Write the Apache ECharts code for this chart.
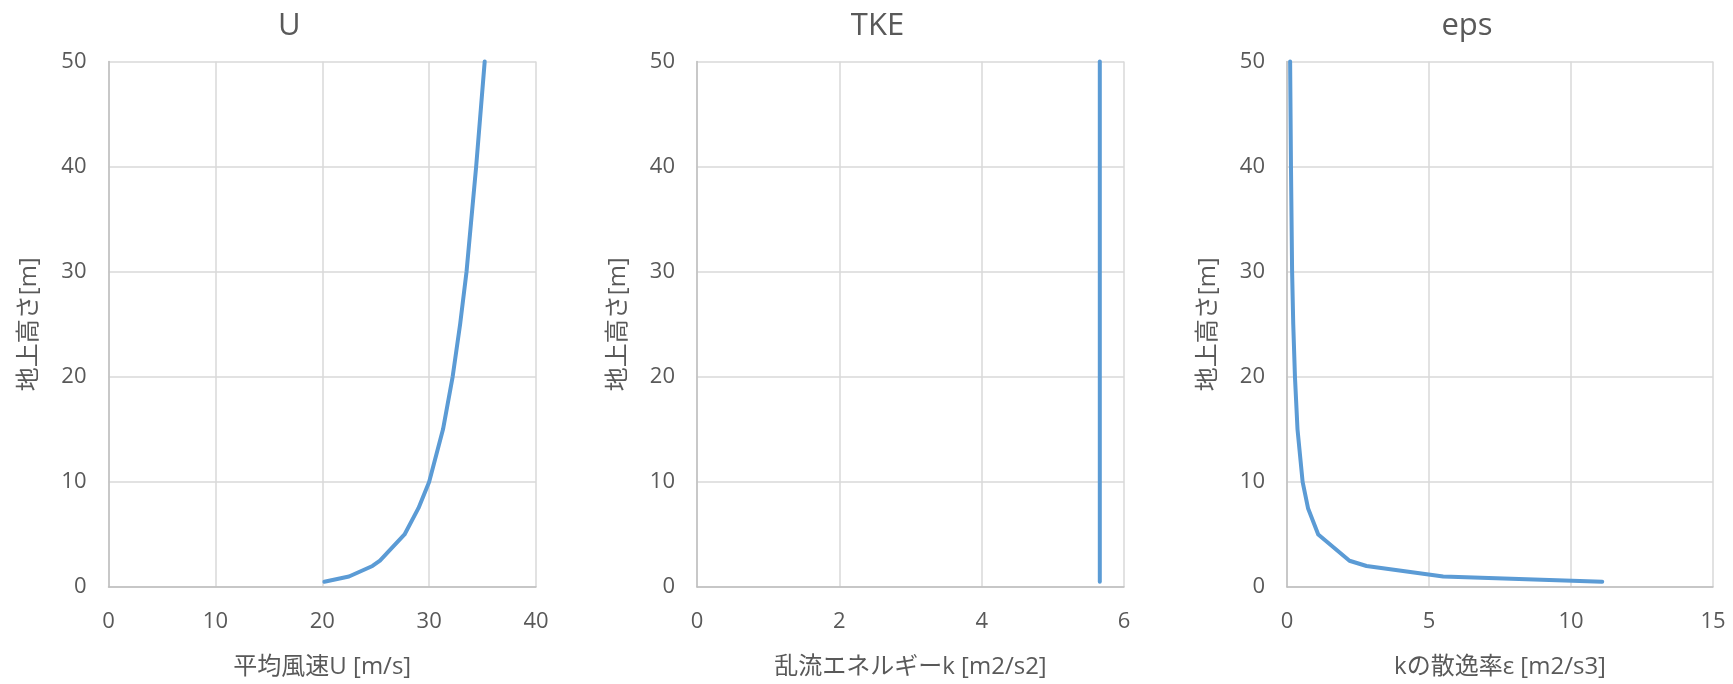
<!DOCTYPE html>
<html>
<head>
<meta charset="utf-8">
<script src="https://cdn.jsdelivr.net/npm/echarts@6/dist/echarts.min.js"></script>
<style>
  html, body { margin: 0; padding: 0; background: #fff; }
  #chart { width: 1733px; height: 684px; }
</style>
</head>
<body>
<div id="chart"></div>
<script>
// heights above ground [m]
const heights = [0.5, 1, 2, 2.5, 5, 7.5, 10, 15, 20, 25, 30, 40, 50];
// mean wind speed U [m/s]
const uMean = [20.2, 22.5, 24.7, 25.4, 27.7, 29.0, 30.0, 31.3, 32.2, 32.9, 33.5, 34.4, 35.2];
// turbulent kinetic energy k [m2/s2]
const tke = [5.66, 5.66, 5.66, 5.66, 5.66, 5.66, 5.66, 5.66, 5.66, 5.66, 5.66, 5.66, 5.66];
// dissipation rate eps [m2/s3]
const eps = [11.1, 5.5, 2.8, 2.2, 1.1, 0.74, 0.55, 0.37, 0.28, 0.22, 0.18, 0.14, 0.11];

const titles = ['U', 'TKE', 'eps'];
const xNames = ['平均風速U [m/s]', '乱流エネルギーk [m2/s2]', 'kの散逸率ε [m2/s3]'];
const xMax = [40, 6, 15];
const xStep = [10, 2, 5];
const yName = '地上高さ[m]';

const FONT = "'Segoe UI', 'Open Sans', 'Noto Sans CJK JP', sans-serif";
const TEXT = '#595959';
const GRID_LINE = '#d9d9d9';
const LINE = '#5b9bd5';

// plot boxes: left / right edge in px
const boxes = [[108.5, 536], [697, 1124], [1287, 1713]];
const TOP = 61.5, BOTTOM = 590.5;

const el = document.getElementById('chart');
const chart = echarts.init(el);

const pair = (xs) => xs.map((x, i) => [x, heights[i]]);
const seriesData = [pair(uMean), pair(tke), pair(eps)];

chart.setOption({
  animation: false,
  textStyle: { fontFamily: FONT, color: TEXT },
  title: boxes.map((b, i) => ({
    text: titles[i],
    left: (b[0] + b[1]) / 2 - 38,
    top: 6,
    textAlign: 'center',
    textStyle: { fontFamily: FONT, fontSize: 31, fontWeight: 'normal', color: TEXT }
  })),
  grid: boxes.map(b => ({
    left: b[0], width: b[1] - b[0],
    top: TOP, height: BOTTOM - TOP,
    containLabel: false
  })),
  xAxis: boxes.map((b, i) => ({
    type: 'value',
    gridIndex: i,
    min: 0, max: xMax[i], interval: xStep[i],
    name: xNames[i],
    nameLocation: 'middle',
    nameGap: 68,
    nameTextStyle: { fontFamily: FONT, fontSize: 24, color: TEXT },
    axisLine: { show: true, lineStyle: { color: '#bfbfbf', width: 1.5 } },
    axisTick: { show: false },
    axisLabel: { margin: 24, fontSize: 22, color: TEXT, fontFamily: FONT },
    splitLine: { show: true, lineStyle: { color: GRID_LINE, width: 1.5 } }
  })),
  yAxis: boxes.map((b, i) => ({
    type: 'value',
    gridIndex: i,
    min: 0, max: 50, interval: 10,
    name: yName,
    nameLocation: 'middle',
    nameGap: 67,
    nameTextStyle: { fontFamily: FONT, fontSize: 24, color: TEXT },
    axisLine: { show: true, lineStyle: { color: '#bfbfbf', width: 1.5 } },
    axisTick: { show: false },
    axisLabel: { margin: 22, fontSize: 22, color: TEXT, fontFamily: FONT },
    splitLine: { show: true, lineStyle: { color: GRID_LINE, width: 1.5 } }
  })),
  series: seriesData.map((d, i) => ({
    type: 'line',
    xAxisIndex: i,
    yAxisIndex: i,
    data: d,
    showSymbol: false,
    symbol: 'none',
    clip: false,
    lineStyle: { color: LINE, width: 4, cap: 'round', join: 'round' }
  }))
});
</script>
</body>
</html>
